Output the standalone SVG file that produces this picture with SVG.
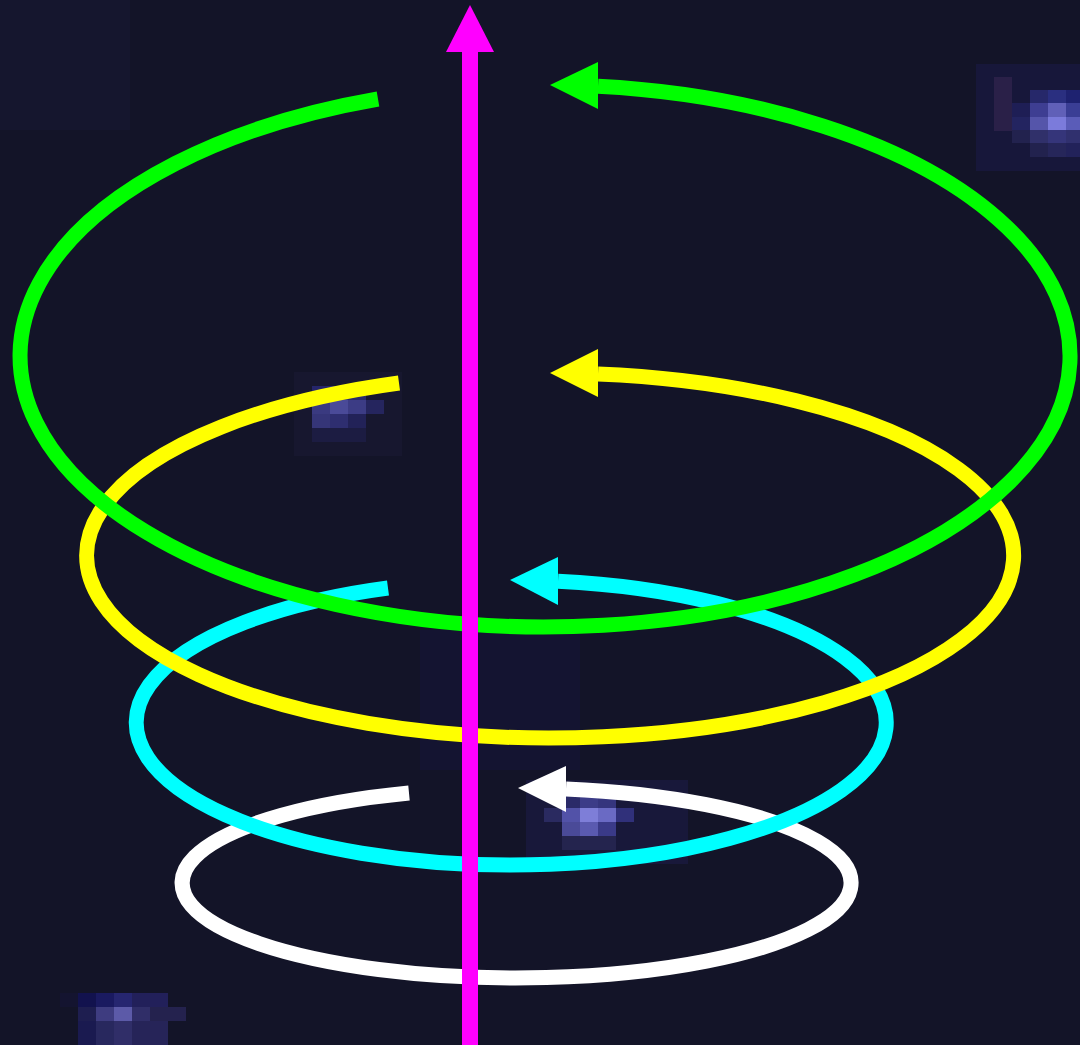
<svg xmlns="http://www.w3.org/2000/svg" width="1080" height="1045" viewBox="0 0 1080 1045">
<style>
.ring{fill:none;stroke-width:15;stroke-linecap:butt}
.g{stroke:#00ff00}.gf{fill:#00ff00}
.y{stroke:#ffff00}.yf{fill:#ffff00}
.c{stroke:#00ffff}.cf{fill:#00ffff}
.w{stroke:#ffffff}.wf{fill:#ffffff}
</style>
<rect width="1080" height="1045" fill="#131428"/>
<g id="background">
<rect x="0" y="0" width="130" height="130" fill="#19193a" opacity="0.35"/>
<rect x="420" y="630" width="160" height="140" fill="#18184a" opacity="0.3"/>
<!-- blob top right -->
<rect x="976" y="64" width="104" height="107" fill="#17173a"/>
<rect x="994" y="77" width="18" height="54" fill="#2a2048"/>
<rect x="1030" y="90" width="18" height="13" fill="#26286a"/>
<rect x="1048" y="90" width="18" height="13" fill="#2a2f80"/>
<rect x="1066" y="90" width="14" height="13" fill="#1e2270"/>
<rect x="1012" y="103" width="18" height="14" fill="#1e1e55"/>
<rect x="1030" y="103" width="18" height="14" fill="#3e3e92"/>
<rect x="1048" y="103" width="18" height="14" fill="#6060b8"/>
<rect x="1066" y="103" width="14" height="14" fill="#3a3e95"/>
<rect x="1012" y="117" width="18" height="13" fill="#232460"/>
<rect x="1030" y="117" width="18" height="13" fill="#5555aa"/>
<rect x="1048" y="117" width="18" height="13" fill="#7b7bdb"/>
<rect x="1066" y="117" width="14" height="13" fill="#5a5cb8"/>
<rect x="1012" y="130" width="18" height="13" fill="#22224e"/>
<rect x="1030" y="130" width="18" height="13" fill="#30306a"/>
<rect x="1048" y="130" width="18" height="13" fill="#35357a"/>
<rect x="1066" y="130" width="14" height="13" fill="#30306e"/>
<rect x="1030" y="143" width="18" height="14" fill="#22224e"/>
<rect x="1048" y="143" width="18" height="14" fill="#26265a"/>
<rect x="1066" y="143" width="14" height="14" fill="#22225a"/>
<!-- blob middle left -->
<rect x="294" y="372" width="108" height="84" fill="#17172f"/>
<rect x="312" y="386" width="18" height="14" fill="#25256a"/>
<rect x="330" y="386" width="18" height="14" fill="#30307a"/>
<rect x="348" y="386" width="18" height="14" fill="#2a2a6a"/>
<rect x="312" y="400" width="18" height="14" fill="#3a3a80"/>
<rect x="330" y="400" width="18" height="14" fill="#4a4a98"/>
<rect x="348" y="400" width="18" height="14" fill="#3c3c85"/>
<rect x="366" y="400" width="18" height="14" fill="#25255e"/>
<rect x="312" y="414" width="18" height="14" fill="#353578"/>
<rect x="330" y="414" width="18" height="14" fill="#2e2e70"/>
<rect x="348" y="414" width="18" height="14" fill="#222258"/>
<rect x="312" y="428" width="54" height="14" fill="#1c1c42"/>
<!-- blob bottom middle -->
<rect x="526" y="780" width="162" height="84" fill="#18183a"/>
<rect x="562" y="794" width="18" height="14" fill="#2a2a68"/>
<rect x="580" y="794" width="18" height="14" fill="#3c3c88"/>
<rect x="598" y="794" width="18" height="14" fill="#35357e"/>
<rect x="544" y="808" width="18" height="14" fill="#2a2a60"/>
<rect x="562" y="808" width="18" height="14" fill="#5252a8"/>
<rect x="580" y="808" width="18" height="14" fill="#7e7ed8"/>
<rect x="598" y="808" width="18" height="14" fill="#6a6ac4"/>
<rect x="616" y="808" width="18" height="14" fill="#30307a"/>
<rect x="562" y="822" width="18" height="14" fill="#4a4a98"/>
<rect x="580" y="822" width="18" height="14" fill="#5a5ab0"/>
<rect x="598" y="822" width="18" height="14" fill="#3a3a88"/>
<rect x="562" y="836" width="54" height="14" fill="#24244e"/>
<!-- blob bottom left -->
<rect x="60" y="993" width="18" height="14" fill="#141430"/>
<rect x="78" y="993" width="18" height="14" fill="#12124e"/>
<rect x="96" y="993" width="18" height="14" fill="#1a1a60"/>
<rect x="114" y="993" width="18" height="14" fill="#262670"/>
<rect x="132" y="993" width="36" height="14" fill="#22205a"/>
<rect x="78" y="1007" width="18" height="14" fill="#1e1e50"/>
<rect x="96" y="1007" width="18" height="14" fill="#3e3c80"/>
<rect x="114" y="1007" width="18" height="14" fill="#5c5aa8"/>
<rect x="132" y="1007" width="18" height="14" fill="#302e68"/>
<rect x="150" y="1007" width="36" height="14" fill="#24224e"/>
<rect x="78" y="1021" width="18" height="24" fill="#1a1a50"/>
<rect x="96" y="1021" width="18" height="24" fill="#28285e"/>
<rect x="114" y="1021" width="18" height="24" fill="#302e68"/>
<rect x="132" y="1021" width="36" height="24" fill="#262458"/>
</g>
<g id="connectors">
<g id="white-ring">
<path class="ring w" d="M409,793 A334.5,95 0 1 0 566,789"/>
<polygon class="wf" points="518,788 566,766 566,812"/>
</g>
<g id="cyan-ring">
<path class="ring c" d="M388,588 A375,142.5 0 1 0 558,581.2"/>
<polygon class="cf" points="510,580 558,557 558,605"/>
</g>
<g id="yellow-ring">
<path class="ring y" d="M399,383 A463.5,182.5 0 1 0 598,374"/>
<polygon class="yf" points="550,373 598,349 598,397"/>
</g>
<g id="green-ring">
<path class="ring g" d="M378,99 A525,271 0 1 0 598,86.3"/>
<polygon class="gf" points="550,85 598,62 598,109"/>
</g>
<g id="axis">
<line x1="470" y1="50" x2="470" y2="1045" stroke="#ff00ff" stroke-width="16"/>
<polygon fill="#ff00ff" points="470,5 446,52 494,52"/>
</g>
</g>
</svg>
